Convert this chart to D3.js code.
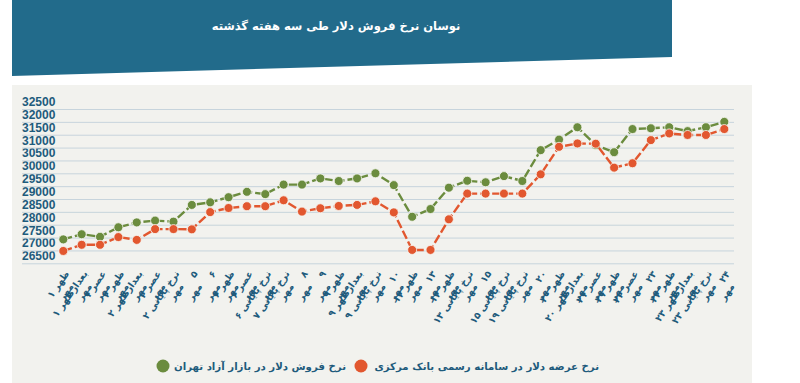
<!DOCTYPE html>
<html>
<head>
<meta charset="utf-8">
<script src="https://cdn.jsdelivr.net/npm/d3@7"></script>
<style>
  html, body { margin: 0; padding: 0; background: #fff; }
  svg { display: block; }
</style>
</head>
<body>
<div id="chart"></div>
<script>
// ---------- data ----------
const title = 'نوسان نرخ فروش دلار طی سه هفته گذشته';

const categories = [
  'ظهر ۱ مهر', 'بعدازظهر ۱ مهر', 'عصر ۱ مهر', 'ظهر ۲ مهر', 'بعدازظهر ۲ مهر',
  'عصر ۲ مهر', 'نرخ پایانی ۲ مهر', '۵ مهر', '۶ مهر', 'ظهر ۶ مهر',
  'عصر ۶ مهر', 'نرخ پایانی ۶ مهر', 'نرخ پایانی ۷ مهر', '۸ مهر', '۹ مهر',
  'ظهر ۹ مهر', 'بعدازظهر ۹ مهر', 'نرخ پایانی ۹ مهر', '۱۰ مهر', 'ظهر ۱۲ مهر',
  '۱۳ مهر', 'ظهر ۱۳ مهر', 'نرخ پایانی ۱۳ مهر', '۱۵ مهر', 'نرخ پایانی ۱۵ مهر',
  'نرخ پایانی ۱۹ مهر', '۲۰ مهر', 'ظهر ۲۰ مهر', 'بعدازظهر ۲۰ مهر', 'عصر ۲۱ مهر',
  'ظهر ۲۱ مهر', 'عصر ۲۲ مهر', '۲۳ مهر', 'ظهر ۲۳ مهر', 'بعدازظهر ۲۳ مهر',
  'نرخ پایانی ۲۳ مهر', '۲۴ مهر'
];

// free market (Tehran)
const freeMarket = [
  27430, 27630, 27530, 27900, 28090, 28160, 28120, 28770, 28870, 29070,
  29280, 29190, 29560, 29560, 29800, 29700, 29800, 30000, 29540, 28310,
  28610, 29440, 29710, 29650, 29890, 29700, 30900, 31310, 31790, 31100,
  30820, 31720, 31750, 31790, 31640, 31790, 32000
];

// central bank official system
const centralBank = [
  26980, 27220, 27220, 27520, 27410, 27830, 27830, 27820, 28490, 28650,
  28720, 28720, 28950, 28510, 28640, 28730, 28770, 28910, 28480, 27020,
  27020, 28210, 29210, 29210, 29210, 29210, 29960, 31030, 31160, 31150,
  30220, 30390, 31290, 31550, 31490, 31490, 31720
];

const yTicks = d3.range(26500, 33000, 500);

const legendCentral = 'نرخ عرضه دلار در سامانه رسمی بانک مرکزی';
const legendFree = 'نرخ فروش دلار در بازار آزاد تهران';

// ---------- layout ----------
const W = 800, H = 383;
const GREEN = '#6b8c3e', ORANGE = '#e2572f', TEAL = '#1e5b7c';
const FA = '"DejaVu Sans", sans-serif';

const svg = d3.select('#chart').append('svg')
  .attr('width', W).attr('height', H);

// panel
svg.append('rect')
  .attr('x', 12).attr('y', 85).attr('width', 740).attr('height', 300)
  .attr('fill', '#f2f2ee');

// header band with slanted bottom
svg.append('path')
  .attr('d', 'M12,0 L672,0 L672,57 L12,76 Z')
  .attr('fill', '#226b8b');

svg.append('text')
  .attr('x', 336).attr('y', 30)
  .attr('text-anchor', 'middle')
  .attr('fill', '#fff')
  .style('font-family', FA)
  .style('font-weight', 'bold')
  .style('font-size', '11.5px')
  .text(title);

// scales
const x = d3.scalePoint().domain(categories).range([63.3, 724.3]);
const y = d3.scaleLinear().domain([26500, 32500]).range([263.3, 109]);

// y axis + gridlines
const yAxis = svg.append('g')
  .attr('transform', 'translate(22,0)')
  .call(d3.axisRight(y).tickValues(yTicks).tickSize(712).tickFormat(d3.format('d')));
yAxis.select('.domain').remove();
yAxis.selectAll('.tick line')
  .attr('stroke', '#c7d4dc')
  .attr('stroke-width', 1);
yAxis.selectAll('.tick text')
  .attr('x', 0)
  .attr('dy', '-3.5')
  .attr('text-anchor', 'start')
  .attr('fill', TEAL)
  .style('font-family', '"Liberation Sans Narrow", "Liberation Sans", sans-serif')
  .style('font-weight', 'bold')
  .style('font-size', '12px');

// x labels, rotated, wrapped on the last word
const xl = svg.append('g');
categories.forEach(c => {
  const words = c.split(' ');
  const first = words.slice(0, -1).join(' ');
  const last = words[words.length - 1];
  const t = xl.append('text')
    .attr('transform', `translate(${x(c) + 4},272) rotate(-55)`)
    .attr('text-anchor', 'end')
    .attr('fill', TEAL)
    .style('font-family', FA)
    .style('font-weight', 'bold')
    .style('font-size', '9.5px');
  t.append('tspan').attr('x', 0).attr('dy', '0.3em').text(first);
  t.append('tspan').attr('x', -8).attr('dy', '1.15em').text(last);
});

// series
const line = d3.line().x((d, i) => x(categories[i])).y(d => y(d));

function drawSeries(values, color) {
  svg.append('path')
    .datum(values)
    .attr('d', line)
    .attr('fill', 'none')
    .attr('stroke', color)
    .attr('stroke-width', 2.4)
    .attr('stroke-dasharray', '9,3');
  svg.append('g').selectAll('circle')
    .data(values)
    .join('circle')
    .attr('cx', (d, i) => x(categories[i]))
    .attr('cy', d => y(d))
    .attr('r', 4.5)
    .attr('fill', color)
    .attr('stroke', '#f7f7f3')
    .attr('stroke-width', 0.8);
}
drawSeries(freeMarket, GREEN);
drawSeries(centralBank, ORANGE);

// legend
const lg = svg.append('g').style('font-family', FA).style('font-weight', 'bold').style('font-size', '10.2px');
lg.append('circle').attr('cx', 361).attr('cy', 366).attr('r', 6.5).attr('fill', ORANGE);
lg.append('text').attr('x', 599).attr('y', 370).attr('text-anchor', 'end').attr('fill', TEAL).text(legendCentral);
lg.append('circle').attr('cx', 163).attr('cy', 366).attr('r', 6.5).attr('fill', GREEN);
lg.append('text').attr('x', 346).attr('y', 370).attr('text-anchor', 'end').attr('fill', TEAL).text(legendFree);
</script>
</body>
</html>
